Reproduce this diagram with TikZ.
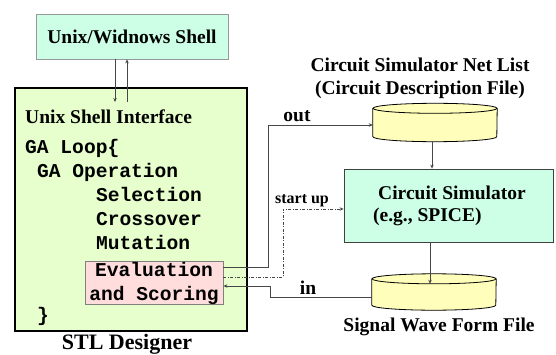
\documentclass[tikz,border=0pt]{standalone}
\usepackage{fontspec}
\setmainfont{Liberation Serif}
\setmonofont{Liberation Mono}
\usetikzlibrary{arrows.meta}
\definecolor{cyanfill}{RGB}{204,255,230}
\definecolor{greenfill}{RGB}{230,255,204}
\definecolor{pinkfill}{RGB}{255,221,221}
\definecolor{yellowfill}{RGB}{255,255,187}
\definecolor{linegray}{RGB}{70,70,70}
\begin{document}
\begin{tikzpicture}[x=1pt,y=1pt,
  serifb/.style={font=\fontsize{19.5}{24}\selectfont\bfseries, inner sep=0pt},
  monob/.style={font=\fontsize{19.6}{24}\selectfont\ttfamily\bfseries, inner sep=0pt, anchor=base west},
  topbox/.style={draw=gray!80, line width=0.8pt, fill=cyanfill, minimum width=192pt, minimum height=45pt, inner sep=0pt},
  simbox/.style={draw=black!75, line width=0.8pt, fill=cyanfill, minimum width=209pt, minimum height=73pt, inner sep=0pt},
  bigbox/.style={draw=black, line width=2pt, fill=greenfill, minimum width=232pt, minimum height=243pt, inner sep=0pt},
  evalbox/.style={draw=gray, line width=0.8pt, fill=pinkfill, minimum width=138pt, minimum height=40pt, inner sep=0pt, align=center, font=\fontsize{19.6}{24}\selectfont\ttfamily\bfseries},
  cylanchor/.style={minimum width=124pt, minimum height=38pt, inner sep=0pt},
  cylfill/.style={fill=yellowfill},
  cylline/.style={draw=black, line width=0.8pt},
  conn/.style={draw=linegray, line width=0.8pt},
  arr/.style={conn, -{Stealth[length=4pt,width=3.5pt]}},
  dashdot/.style={dash pattern=on 3pt off 1.5pt on 1pt off 1.5pt}
]
\useasboundingbox (0,0) rectangle (556,354);

% boxes
\node[topbox] (shell) at (132,317.5) {};
\node[serifb] (shelltxt) at (132,317.5) {Unix/Widnows Shell};
\node[bigbox] (stl) at (131,144.5) {};
\node[simbox] (sim) at (448.5,148.5) {};

% shell arrows
\coordinate (dnend) at (115,252);
\coordinate (upstart) at (127,252);
\draw[arr] (shell.south -| dnend) -- (dnend);
\draw[arr] (upstart) -- (shell.south -| upstart);

% texts in STL designer
\node[serifb, anchor=base west] (usi) at (25,230.5) {Unix Shell Interface};
\node[monob] (l1) at (25,200.5) {GA Loop\{};
\node[monob] (l2) at (36.8,176.5) {GA Operation};
\node[monob] (l3) at (95.8,152.5) {Selection};
\node[monob] (l4) at (95.8,128.5) {Crossover};
\node[monob] (l5) at (95.8,104.5) {Mutation};
\node[monob] (l6) at (36.8,32.5) {\}};
\node[evalbox] (eval) at (154,71) {Evaluation\\and Scoring};
\node[serifb, font=\fontsize{22}{26}\selectfont\bfseries, anchor=base] (stllbl) at (127,4.5) {STL Designer};

% cylinders
\node[cylanchor] (cyl1) at (435,231.5) {};
\path[cylfill] ([yshift=-5pt]cyl1.north west) -- ([yshift=5pt]cyl1.south west) arc (180:360:62pt and 5pt) -- ([yshift=-5pt]cyl1.north east) arc (0:180:62pt and 5pt) -- cycle;
\draw[cylline] ([yshift=-5pt]cyl1.north west) -- ([yshift=5pt]cyl1.south west) arc (180:360:62pt and 5pt) -- ([yshift=-5pt]cyl1.north east);
\draw[cylline] ([yshift=-5pt]cyl1.north) ellipse (62pt and 5pt);

\node[cylanchor, minimum height=36pt] (cyl2) at (434,62) {};
\path[cylfill] ([yshift=-5pt]cyl2.north west) -- ([yshift=5pt]cyl2.south west) arc (180:360:62pt and 5pt) -- ([yshift=-5pt]cyl2.north east) arc (0:180:62pt and 5pt) -- cycle;
\draw[cylline] ([yshift=-5pt]cyl2.north west) -- ([yshift=5pt]cyl2.south west) arc (180:360:62pt and 5pt) -- ([yshift=-5pt]cyl2.north east);
\draw[cylline] ([yshift=-5pt]cyl2.north) ellipse (62pt and 5pt);

% labels
\node[serifb, anchor=base] (nl1) at (420,282.5) {Circuit Simulator Net List};
\node[serifb, anchor=base] (nl2) at (420,259.5) {(Circuit Description File)};
\node[serifb, anchor=base west] (cs1) at (378,154.5) {Circuit Simulator};
\node[serifb, anchor=base west] (cs2) at (373,132.5) {(e.g., SPICE)};
\node[serifb, anchor=base] (swf) at (439,22.5) {Signal Wave Form File};
\node[serifb, anchor=base] (outlbl) at (297,233) {out};
\node[serifb, font=\fontsize{16}{19}\selectfont\bfseries, anchor=base] (suplbl) at (302,151) {start up};
\node[serifb, anchor=base] (inlbl) at (308,60) {in};

% vertical arrows
\draw[arr] (cyl1.south -| 432,0) -- (sim.north -| 432,0);
\draw[arr] (sim.south -| 430,0) -- ([yshift=-10pt]cyl2.north -| 430,0);

% connectors
\coordinate (o1) at (268,87);
\coordinate (o2) at (268,229);
\draw[arr] (eval.east |- o1) -- (o1) -- (o2) -- (cyl1.west |- o2);
\coordinate (s1) at (283,77);
\coordinate (s2) at (283,145);
\draw[arr, dashdot] (eval.east |- s1) -- (s1) -- (s2) -- (sim.west |- s2);
\coordinate (i1) at (270,57);
\coordinate (i2) at (270,68);
\draw[arr] (cyl2.west |- i1) -- (i1) -- (i2) -- (eval.east |- i2);
\end{tikzpicture}
\end{document}
